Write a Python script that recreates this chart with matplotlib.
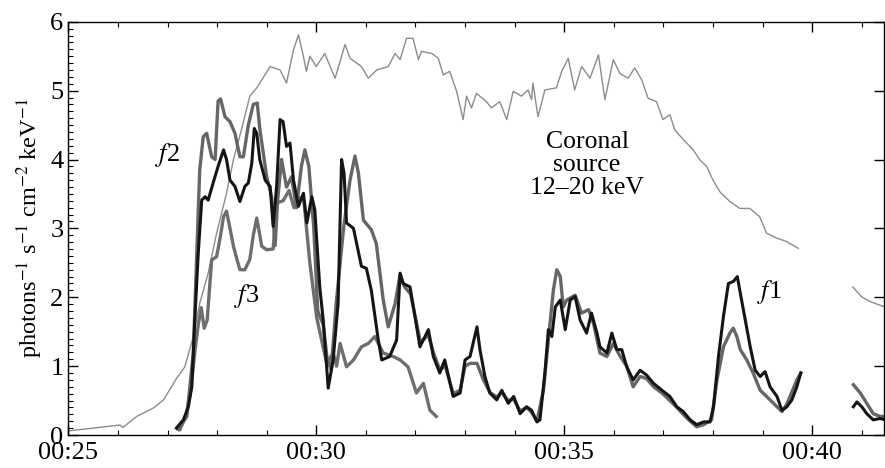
import matplotlib
matplotlib.use("Agg")
import matplotlib.pyplot as plt
from matplotlib.ticker import MultipleLocator, FuncFormatter

# time in minutes after 00:00
coronal_t = [25.00, 25.50, 26.04, 26.10, 26.38, 26.71, 26.92, 27.18, 27.35, 27.52, 27.65, 27.82,
             27.99, 28.19, 28.33, 28.49, 28.66, 28.80, 29.07, 29.27, 29.40, 29.54, 29.64, 29.74,
             29.80, 29.87, 30.00, 30.17, 30.38, 30.58, 30.68, 30.91, 31.05, 31.22, 31.45, 31.59,
             31.69, 31.82, 31.95, 32.06, 32.12, 32.33, 32.46, 32.56, 32.69, 32.83, 32.96, 33.03,
             33.13, 33.23, 33.43, 33.53, 33.70, 33.84, 33.97, 34.14, 34.27, 34.34, 34.37, 34.47,
             34.61, 34.84, 34.95, 35.08, 35.21, 35.35, 35.52, 35.69, 35.82, 35.99, 36.12, 36.29,
             36.42, 36.56, 36.69, 36.86, 36.99, 37.13, 37.23, 37.40, 37.60, 37.73, 37.87, 38.00,
             38.14, 38.34, 38.54, 38.74, 38.94, 39.08, 39.28, 39.48, 39.72]
coronal_y = [0.06, 0.10, 0.145, 0.11, 0.27, 0.39, 0.51, 0.82, 0.99, 1.43, 1.91, 2.35,
             2.93, 3.51, 4.00, 4.43, 4.92, 5.04, 5.35, 5.30, 5.11, 5.59, 5.81, 5.50,
             5.28, 5.50, 5.35, 5.54, 5.18, 5.67, 5.47, 5.35, 5.18, 5.30, 5.35, 5.54,
             5.45, 5.76, 5.76, 5.45, 5.57, 5.54, 5.47, 5.23, 5.28, 4.99, 4.58, 4.92,
             4.75, 4.96, 4.84, 4.75, 4.84, 4.58, 4.99, 4.92, 5.01, 4.87, 5.11, 4.62,
             5.01, 5.04, 5.28, 5.47, 5.01, 5.35, 5.18, 5.52, 4.87, 5.45, 5.25, 5.18,
             5.33, 5.16, 4.89, 4.84, 4.58, 4.65, 4.43, 4.29, 4.14, 4.00, 3.90, 3.70,
             3.53, 3.39, 3.29, 3.29, 3.17, 2.93, 2.86, 2.81, 2.71]
coronal2_t = [40.82, 40.99, 41.16, 41.46]
coronal2_y = [2.15, 2.01, 1.94, 1.86]

f1_t = [27.18, 27.32, 27.42, 27.49, 27.55, 27.62, 27.69, 27.76, 27.82, 27.92, 28.02, 28.13,
        28.19, 28.26, 28.36, 28.46, 28.56, 28.63, 28.70, 28.75, 28.80, 28.86, 28.97, 29.07,
        29.13, 29.20, 29.27, 29.33, 29.40, 29.47, 29.54, 29.64, 29.74, 29.81, 29.91, 29.97,
        30.07, 30.14, 30.24, 30.34, 30.44, 30.51, 30.56, 30.61, 30.75, 30.91, 31.01, 31.11,
        31.25, 31.32, 31.48, 31.62, 31.69, 31.75, 31.89, 31.99, 32.09, 32.26, 32.36, 32.49,
        32.59, 32.76, 32.90, 33.00, 33.10, 33.24, 33.30, 33.40, 33.50, 33.64, 33.74, 33.87,
        33.98, 34.11, 34.24, 34.34, 34.45, 34.51, 34.61, 34.68, 34.75, 34.82, 34.92, 35.02,
        35.12, 35.22, 35.32, 35.45, 35.55, 35.66, 35.72, 35.86, 35.96, 36.06, 36.16, 36.26,
        36.39, 36.53, 36.66, 36.80, 36.97, 37.13, 37.27, 37.40, 37.54, 37.67, 37.81, 37.94,
        38.01, 38.11, 38.21, 38.31, 38.41, 38.49, 38.55, 38.65, 38.75, 38.85, 38.95, 39.05,
        39.15, 39.29, 39.39, 39.49, 39.59, 39.69, 39.77]
f1_y = [0.10, 0.22, 0.41, 0.70, 1.67, 2.64, 3.41, 3.46, 3.41, 3.66, 3.90, 4.14,
        4.00, 3.70, 3.61, 3.39, 3.61, 3.66, 3.95, 4.45, 4.38, 4.00, 3.70, 3.61,
        3.03, 3.61, 4.58, 4.55, 4.19, 4.24, 3.70, 3.32, 3.51, 3.08, 3.46, 3.27,
        2.15, 1.67, 0.68, 1.09, 1.91, 4.00, 3.80, 3.08, 3.00, 2.45, 2.42, 2.10,
        1.38, 1.09, 1.14, 1.38, 2.35, 2.20, 2.15, 1.72, 1.28, 1.53, 1.14, 0.90,
        1.09, 0.56, 0.61, 1.09, 1.14, 1.57, 1.24, 0.85, 0.61, 0.51, 0.65, 0.46,
        0.56, 0.31, 0.41, 0.36, 0.19, 0.22, 0.90, 1.53, 1.43, 1.86, 1.96, 1.53,
        1.96, 2.01, 1.67, 1.48, 1.77, 1.48, 1.28, 1.19, 1.48, 1.24, 1.24, 0.99,
        0.80, 0.94, 0.87, 0.75, 0.65, 0.56, 0.41, 0.34, 0.22, 0.15, 0.19, 0.19,
        0.41, 1.14, 1.72, 2.20, 2.23, 2.30, 2.06, 1.67, 1.28, 0.94, 0.85, 0.92,
        0.70, 0.56, 0.36, 0.41, 0.51, 0.70, 0.90]
f1b_t = [40.83, 40.90, 41.00, 41.10, 41.23, 41.37, 41.47]
f1b_y = [0.41, 0.48, 0.41, 0.31, 0.22, 0.24, 0.22]

f2_t = [27.22, 27.39, 27.52, 27.59, 27.65, 27.72, 27.79, 27.89, 27.96, 28.02, 28.07, 28.16,
        28.26, 28.36, 28.46, 28.53, 28.63, 28.73, 28.81, 28.86, 28.93, 29.00, 29.10, 29.17,
        29.22, 29.30, 29.40, 29.50, 29.60, 29.70, 29.77, 29.85, 29.95, 30.03, 30.14, 30.22,
        30.30, 30.40, 30.55, 30.68, 30.78, 30.85, 30.95, 31.11, 31.21, 31.35, 31.45, 31.59,
        31.69, 31.78, 31.90, 32.00, 32.10, 32.26, 32.36, 32.49, 32.60, 32.76, 32.90, 33.00,
        33.10, 33.24, 33.37, 33.50, 33.64, 33.74, 33.87, 33.98, 34.11, 34.24, 34.34, 34.45,
        34.58, 34.68, 34.78, 34.85, 34.92, 34.98, 35.05, 35.22, 35.35, 35.49, 35.59, 35.72,
        35.86, 35.99, 36.12, 36.26, 36.39, 36.53, 36.66, 36.80, 36.97, 37.13, 37.27, 37.40,
        37.54, 37.67, 37.81, 37.97, 38.08, 38.21, 38.34, 38.41, 38.48, 38.55, 38.68, 38.81,
        38.95, 39.08, 39.29, 39.39, 39.49, 39.69, 39.77]
f2_y = [0.08, 0.27, 1.19, 2.64, 3.85, 4.33, 4.38, 4.04, 4.00, 4.85, 4.88, 4.62,
        4.55, 4.38, 4.04, 4.04, 4.50, 4.80, 4.82, 4.45, 4.10, 3.75, 3.45, 2.75,
        3.40, 4.00, 3.60, 3.75, 3.30, 3.90, 4.14, 3.90, 3.00, 1.80, 1.60, 1.10,
        0.95, 1.90, 3.00, 3.70, 4.05, 3.80, 3.12, 2.98, 2.78, 1.96, 1.57, 1.91,
        2.33, 2.15, 2.05, 1.70, 1.35, 1.45, 1.20, 0.95, 1.00, 0.60, 0.65, 1.00,
        1.04, 1.04, 0.80, 0.62, 0.55, 0.62, 0.50, 0.52, 0.35, 0.40, 0.33, 0.20,
        0.65, 1.38, 2.10, 2.40, 2.30, 1.86, 1.96, 2.03, 1.77, 1.82, 1.62, 1.19,
        1.14, 1.33, 1.15, 1.00, 0.70, 0.85, 0.82, 0.70, 0.61, 0.50, 0.40, 0.30,
        0.20, 0.12, 0.15, 0.22, 0.80, 1.28, 1.48, 1.55, 1.43, 1.24, 1.09, 0.90,
        0.65, 0.56, 0.41, 0.34, 0.45, 0.80, 0.90]
f2b_t = [40.83, 40.97, 41.10, 41.23, 41.37, 41.47]
f2b_y = [0.73, 0.61, 0.46, 0.31, 0.27, 0.27]

f3_t = [27.25, 27.38, 27.47, 27.55, 27.62, 27.68, 27.74, 27.80, 27.89, 27.99, 28.07, 28.13,
        28.19, 28.26, 28.33, 28.40, 28.46, 28.56, 28.66, 28.73, 28.80, 28.90, 29.00, 29.13,
        29.20, 29.33, 29.45, 29.55, 29.65, 29.75, 29.87, 30.01, 30.21, 30.34, 30.41, 30.48,
        30.61, 30.75, 30.91, 31.05, 31.18, 31.35, 31.55, 31.69, 31.85, 32.02, 32.16, 32.29,
        32.42]
f3_y = [0.08, 0.30, 0.65, 1.20, 1.60, 1.85, 1.55, 1.67, 2.54, 2.59, 2.90, 3.17,
        3.25, 3.00, 2.74, 2.55, 2.40, 2.40, 2.55, 2.90, 3.15, 2.74, 2.69, 2.70,
        3.37, 3.40, 3.55, 3.30, 3.45, 3.40, 2.50, 1.70, 1.04, 1.19, 1.00, 1.33,
        0.99, 1.09, 1.28, 1.33, 1.43, 1.19, 1.14, 1.09, 0.99, 0.61, 0.75, 0.36,
        0.27]

plt.rcParams['font.family'] = ['Liberation Serif', 'DejaVu Serif']
plt.rcParams['mathtext.fontset'] = 'stix'

fig = plt.figure(figsize=(8.85, 4.68), dpi=100)
ax = fig.add_axes([0.0772, 0.0705, 0.9218, 0.883])

ax.plot(coronal_t, coronal_y, color='#8c8c8c', lw=1.0)
ax.plot(coronal2_t, coronal2_y, color='#8c8c8c', lw=1.0)
ax.plot(f3_t, f3_y, color='#6e6e6e', lw=2.4, solid_joinstyle='round')
ax.plot(f2_t, f2_y, color='#666666', lw=2.4, solid_joinstyle='round')
ax.plot(f2b_t, f2b_y, color='#666666', lw=2.4)
ax.plot(f1_t, f1_y, color='#151515', lw=2.2, solid_joinstyle='round')
ax.plot(f1b_t, f1b_y, color='#151515', lw=2.2)

ax.text(26.99, 4.07, '$f$2', fontsize=19, ha='center', va='center')
ax.text(28.6, 2.02, '$f$3', fontsize=19, ha='center', va='center')
ax.text(39.13, 2.08, '$f$1', fontsize=19, ha='center', va='center')
ax.text(35.46, 3.92, 'Coronal\nsource\n12\u201320 keV', fontsize=18.5,
        ha='center', va='center', linespacing=1.08)

ax.set_xlim(25, 41.45)
ax.set_ylim(0, 6)
ax.xaxis.set_major_locator(MultipleLocator(5))
ax.xaxis.set_minor_locator(MultipleLocator(1))
ax.yaxis.set_major_locator(MultipleLocator(1))
ax.yaxis.set_minor_locator(MultipleLocator(0.1))
ax.xaxis.set_major_formatter(FuncFormatter(lambda v, p: '00:%02d' % int(round(v))))
ax.tick_params(which='both', direction='in', top=True, right=True, labelsize=19)
ax.tick_params(which='major', length=7, width=1)
ax.tick_params(which='minor', length=3.5, width=0.8, right=False)
ax.tick_params(axis='x', pad=5)
ax.set_ylabel('photons$^{-1}$ s$^{-1}$ cm$^{-2}$ keV$^{-1}$', fontsize=17.5, labelpad=4)
for s in ax.spines.values():
    s.set_linewidth(1.0)

fig.savefig('out.png', dpi=100)
